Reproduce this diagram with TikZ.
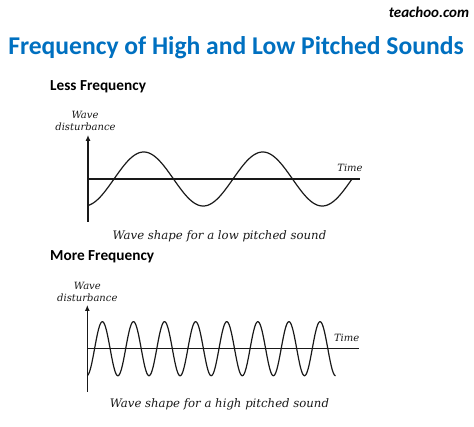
\documentclass[tikz,border=0pt]{standalone}
\usepackage{fontspec}
\usetikzlibrary{arrows.meta}
\newfontfamily\carl{Carlito}
\newfontfamily\lbl{DejaVu Serif}
\definecolor{titleblue}{RGB}{0,112,192}
\begin{document}
\begin{tikzpicture}[x=1pt,y=-1pt,
  heading/.style={font=\carl\bfseries\fontsize{15.3}{17}\selectfont, anchor=west, inner sep=0},
  axislbl/.style={font=\lbl\itshape\fontsize{10}{11}\selectfont, inner sep=0, text=black!90},
  caption/.style={font=\lbl\itshape\fontsize{11.7}{13}\selectfont, inner sep=0, text=black!90},
  axis/.style={line width=1.1pt, black!90},
  wave/.style={line width=1.2pt, black!90},
  arr/.style={-{Latex[length=6pt,width=5pt]}}]
\useasboundingbox (0,0) rectangle (474,427);
% header
\node[font=\carl\bfseries\itshape\fontsize{15}{16}\selectfont, inner sep=0] (brand) at (429,12.5) {teachoo.com};
\node[font=\carl\bfseries\fontsize{25.6}{28}\selectfont, text=titleblue, inner sep=0] (title) at (236,48) {Frequency of High and Low Pitched Sounds};
% top graph
\node[heading] (less) at (50,86.7) {Less Frequency};
\coordinate (ya1) at (88,221.7);
\coordinate (yb1) at (88,135);
\coordinate (xa1) at (88,179);
\coordinate (xb1) at (360,179);
\draw[axis,arr] (ya1) -- (yb1);
\draw[axis] (xa1) -- (xb1);
\draw[wave] plot[domain=88:351.7, samples=200, smooth] (\x, {179 - 27*sin(3.02521*(\x-114))});
\node[axislbl] (w1) at (85,115) {Wave};
\node[axislbl] (d1) at (85.5,126.7) {disturbance};
\node[axislbl] (t1) at (350,168) {Time};
\node[caption] (c1) at (219.5,236.7) {Wave shape for a low pitched sound};
% bottom graph
\node[heading] (more) at (50,256.7) {More Frequency};
\coordinate (ya2) at (87.3,391.7);
\coordinate (yb2) at (87.3,305);
\coordinate (xa2) at (87.3,348.7);
\coordinate (xb2) at (359.3,348.7);
\draw[axis,arr] (ya2) -- (yb2);
\draw[axis] (xa2) -- (xb2);
\draw[wave] plot[domain=87.3:335.6, samples=500, smooth] (\x, {348.7 + 27*cos(11.5756*(\x-86.8))});
\node[axislbl] (w2) at (87.3,285.7) {Wave};
\node[axislbl] (d2) at (87.3,297.3) {disturbance};
\node[axislbl] (t2) at (346.7,338.3) {Time};
\node[caption] (c2) at (219.5,404) {Wave shape for a high pitched sound};
\end{tikzpicture}
\end{document}
